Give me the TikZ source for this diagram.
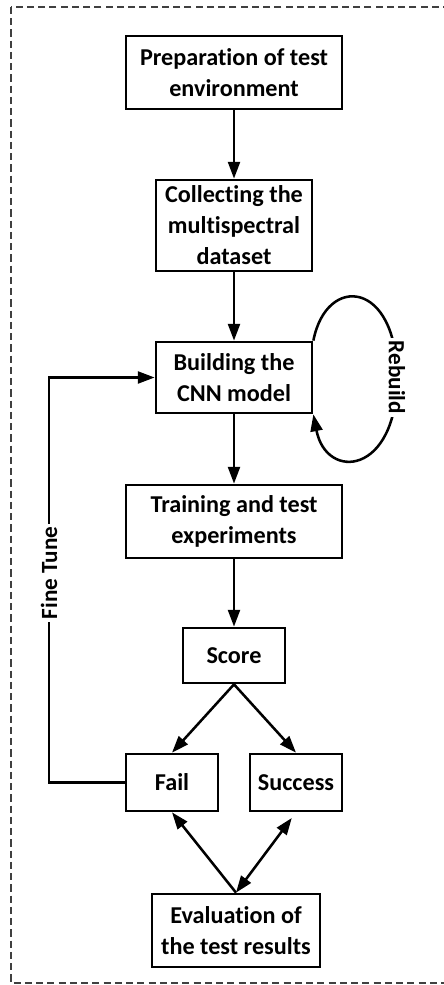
\documentclass[tikz,border=0pt]{standalone}
\usepackage{fontspec}
\setmainfont{Carlito}[Ligatures=NoCommon]
\usetikzlibrary{arrows.meta}

\begin{document}
\begin{tikzpicture}[
    x=0.025cm, y=-0.025cm,
    font=\bfseries\fontsize{17.2}{22}\selectfont,
    box/.style={draw, line width=1.9pt, align=center, inner sep=0pt},
    arr/.style={-{Triangle[length=12pt, width=8.5pt]}, line width=1.8pt},
    lbl/.style={fill=white, inner sep=2pt, font=\bfseries\fontsize{16.5}{18}\selectfont},
    frame/.style={dashed, dash pattern=on 5pt off 3pt, line width=0.8pt, black!75},
]
\useasboundingbox (0,0) rectangle (444,985);

% ----- Marco punteado -----
\draw[frame] (11,7) rectangle (447,983);

% ----- Cajas del flujo -----
\node[box, minimum width=5.4cm, minimum height=1.825cm] (prep) at (234,72.5)
      {Preparation of test\\environment};
\node[box, minimum width=3.9cm, minimum height=2.275cm] (collect) at (234,225.5)
      {Collecting the\\multispectral\\dataset};
\node[box, minimum width=3.9cm, minimum height=1.775cm] (cnn) at (234,377.5)
      {Building the\\CNN model};
\node[box, minimum width=5.4cm, minimum height=1.825cm] (train) at (234,521.5)
      {Training and test\\experiments};
\node[box, minimum width=2.55cm, minimum height=1.375cm] (score) at (234,655.5)
      {Score};
\node[box, minimum width=2.3cm, minimum height=1.425cm] (fail) at (172,782.5)
      {Fail};
\node[box, minimum width=2.3cm, minimum height=1.425cm] (success) at (296,782.5)
      {Success};
\node[box, minimum width=4.2cm, minimum height=1.825cm] (eval) at (236,930.5)
      {Evaluation of\\the test results};

% ----- Flechas principales -----
\draw[arr] (prep) -- (collect);
\draw[arr] (collect) -- (cnn);
\draw[arr] (cnn) -- (train);
\draw[arr] (train) -- (score);
\draw[arr] (score.south) -- (fail.north);
\draw[arr] (score.south) -- (success.north);
\draw[arr] (eval.north) -- (fail.south);
\draw[arr, {Triangle[length=12pt, width=8.5pt]}-{Triangle[length=12pt, width=8.5pt]},
      shorten >=5pt] (eval.north) -- (success.south);

% ----- Bucle de reconstruccion -----
\coordinate (rb) at (397,377.5);
\draw[arr] (cnn.north east) .. controls +(13,-67) and +(0,-97.5) .. (rb)
      .. controls +(0,97.5) and +(13,67) .. (cnn.south east);
\node[lbl, rotate=-90] (rebuild) at (rb) {Rebuild};

% ----- Ajuste fino: de Fail vuelta al modelo -----
\coordinate (ft) at (49,782.5);
\draw[arr] (fail.west) -- (ft) -- (ft |- cnn.west) -- (cnn.west);
\node[lbl, rotate=90] (finetune) at (49,573) {Fine Tune};

\end{tikzpicture}
\end{document}
